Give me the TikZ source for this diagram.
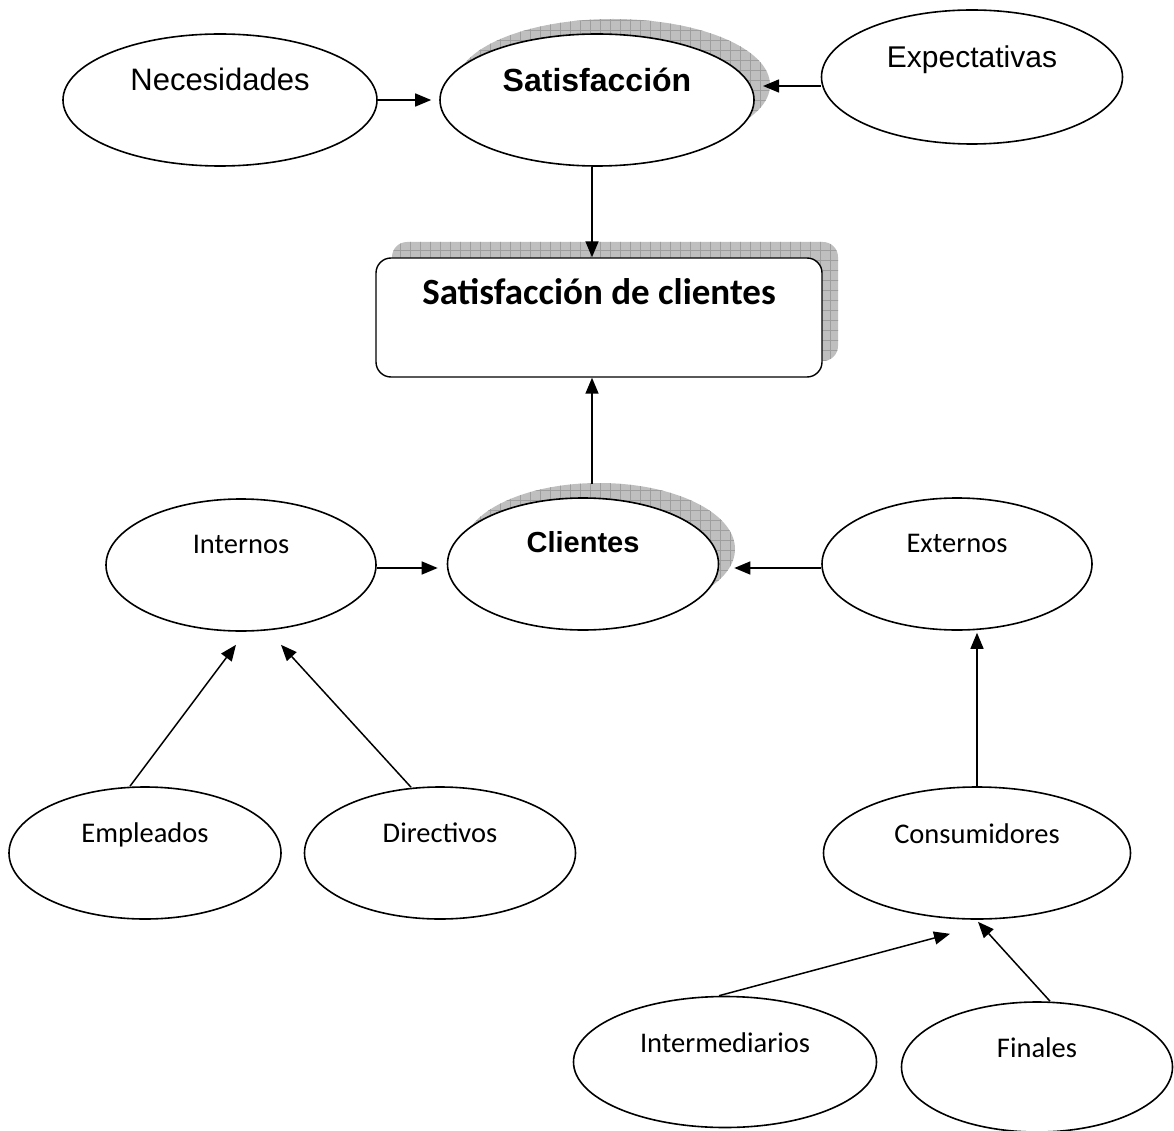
\documentclass[tikz,border=0pt]{standalone}
\usepackage{fontspec}
\setmainfont{Carlito}
\newfontfamily\arialf{Liberation Sans}
\usetikzlibrary{shapes.geometric,arrows.meta}
\begin{document}
\begin{tikzpicture}[x=1pt,y=1pt,
  ell/.style={ellipse, draw, line width=1.6pt, fill=white, inner sep=0pt},
  arr/.style={line width=1.5pt, -{Triangle[length=16pt,width=13pt]}},
  lbl/.style={anchor=base, inner sep=0pt, font=\fontsize{28.5}{30}\selectfont},
  alb/.style={anchor=base, inner sep=0pt, font=\arialf\fontsize{31}{33}\selectfont},
  shfill/.style={fill=black!25},
  shgrid/.style={draw=black!38, line width=0.6pt, step=10pt},
]
\useasboundingbox (0,0) rectangle (1174,-1131);

% ---- shadows ----
\begin{scope}
  \clip (613,-85) ellipse [x radius=157pt, y radius=66pt];
  \fill[shfill] (440,-170) rectangle (780,0);
  \path[shgrid] (440,-170) grid (780,0);
\end{scope}
\begin{scope}
  \clip[rounded corners=15pt] (392,-242) rectangle (838,-361);
  \fill[shfill] (390,-370) rectangle (840,-240);
  \path[shgrid] (390,-370) grid (840,-240);
\end{scope}
\begin{scope}
  \clip (599,-549) ellipse [x radius=136pt, y radius=66pt];
  \fill[shfill] (450,-630) rectangle (740,-480);
  \path[shgrid] (450,-630) grid (740,-480);
\end{scope}

% ---- nodes ----
\node[ell, minimum width=314pt, minimum height=132pt] (nec) at (220,-100) {};
\node[ell, minimum width=314pt, minimum height=132pt] (sat) at (597,-100) {};
\node[ell, minimum width=301pt, minimum height=134pt] (exp) at (972,-77) {};
\node[draw, rounded corners=15pt, line width=1.4pt, fill=white, inner sep=0pt,
      minimum width=446pt, minimum height=119pt] (box) at (599,-317.5) {};
\node[ell, minimum width=271pt, minimum height=132pt] (cli) at (583,-564) {};
\node[ell, minimum width=270pt, minimum height=132pt] (int) at (241,-565) {};
\node[ell, minimum width=270pt, minimum height=132pt] (ext) at (957,-564) {};
\node[ell, minimum width=272pt, minimum height=132pt] (emp) at (145,-853) {};
\node[ell, minimum width=271pt, minimum height=132pt] (dir) at (440,-853) {};
\node[ell, minimum width=307pt, minimum height=132pt] (con) at (977,-853) {};
\node[ell, minimum width=303pt, minimum height=131pt] (inter) at (725,-1062) {};
\node[ell, minimum width=271pt, minimum height=130pt] (fin) at (1037,-1067) {};

% ---- labels ----
\node[alb] (necT) at ([yshift=9pt]nec.center) {Necesidades};
\node[alb, font=\arialf\bfseries\fontsize{32}{34}\selectfont] (satT) at ([yshift=8pt]sat.center) {Satisfacción};
\node[alb, font=\arialf\fontsize{30}{32}\selectfont] (expT) at ([yshift=9pt]exp.center) {Expectativas};
\node[lbl, font=\bfseries\fontsize{37}{39}\selectfont] (boxT) at ([yshift=12.5pt]box.center) {Satisfacción de clientes};
\node[alb, font=\arialf\bfseries\fontsize{29}{31}\selectfont] (cliT) at ([yshift=12pt]cli.center) {Clientes};
\node[lbl] (intT) at ([yshift=12pt]int.center) {Internos};
\node[lbl] (extT) at ([yshift=12pt]ext.center) {Externos};
\node[lbl] (empT) at ([yshift=11pt]emp.center) {Empleados};
\node[lbl] (dirT) at ([yshift=11pt]dir.center) {Directivos};
\node[lbl] (conT) at ([yshift=10pt]con.center) {Consumidores};
\node[lbl] (interT) at ([yshift=10pt]inter.center) {Intermediarios};
\node[lbl] (finT) at ([yshift=10pt]fin.center) {Finales};

% ---- connectors ----
\coordinate (expTip) at (763,-86);
\draw[arr] (nec.east) -- ([xshift=-8pt]sat.west);
\draw[arr] (expTip -| exp.west) -- (expTip);
\draw[arr] ([xshift=-5pt]sat.south) -- ([xshift=-7pt]box.north);
\draw[arr] ([xshift=9pt,yshift=13pt]cli.north) -- ([xshift=-7pt]box.south);
\draw[arr] ([yshift=-3pt]int.east) -- ([xshift=-9pt,yshift=-4pt]cli.west);
\draw[arr] ([yshift=-4pt]ext.west) -- ([xshift=15pt,yshift=-4pt]cli.east);
\draw[arr] ([xshift=-15pt]emp.north) -- ([xshift=-5pt,yshift=-13pt]int.south);
\draw[arr] ([xshift=-29pt,yshift=-1pt]dir.north) -- ([xshift=40pt,yshift=-13pt]int.south);
\draw[arr] (con.north) -- ([xshift=20pt,yshift=-2pt]ext.south);
\draw[arr] ([xshift=-6pt]inter.north) -- ([xshift=-27pt,yshift=-14pt]con.south);
\draw[arr] ([xshift=13pt]fin.north) -- ([xshift=1pt,yshift=-2pt]con.south);
\end{tikzpicture}
\end{document}
